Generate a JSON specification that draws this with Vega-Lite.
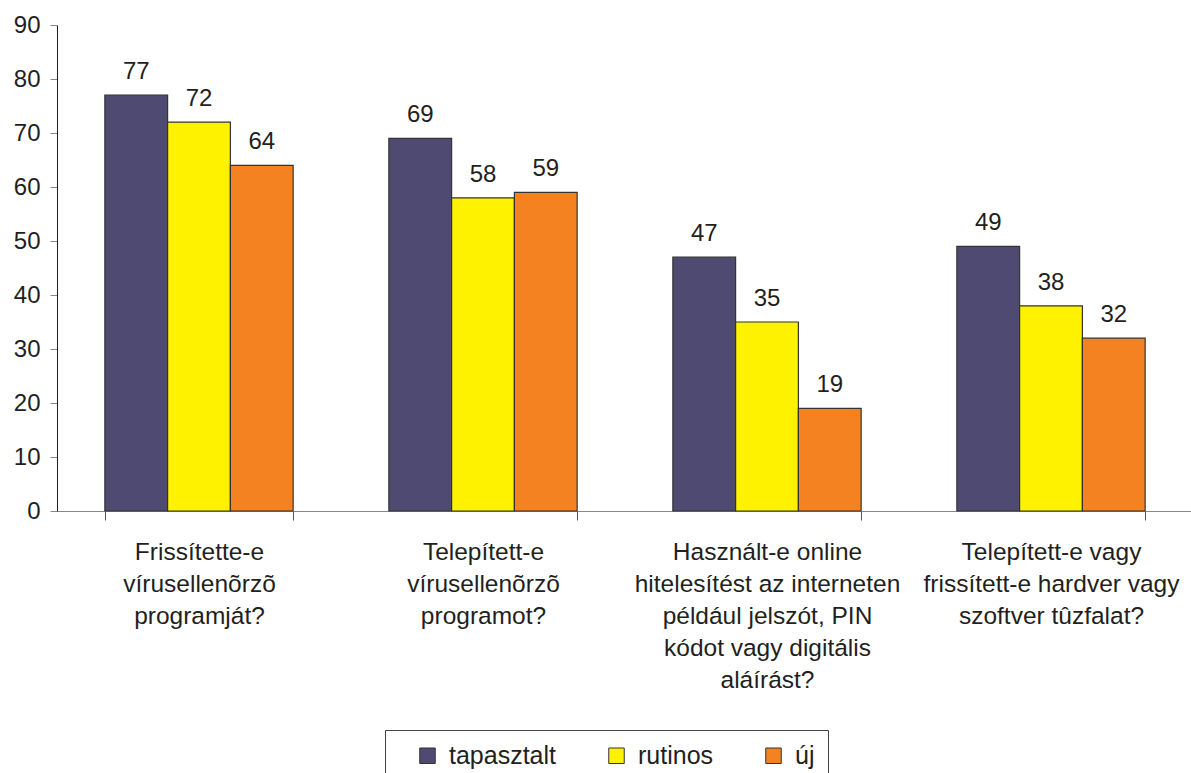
{
  "$schema": "https://vega.github.io/schema/vega-lite/v6.json",
  "width": 1136,
  "height": 486,
  "autosize": {"type": "none"},
  "padding": {"left": 57, "top": 25, "right": 0, "bottom": 262},
  "background": "white",
  "config": {
    "view": {"stroke": null},
    "font": "Liberation Sans",
    "text": {"font": "Liberation Sans"}
  },
  "data": {
    "values": [
      {"q": "Frissítette-e|vírusellenõrzõ|programját?", "s": "tapasztalt", "v": 77},
      {"q": "Frissítette-e|vírusellenõrzõ|programját?", "s": "rutinos", "v": 72},
      {"q": "Frissítette-e|vírusellenõrzõ|programját?", "s": "új", "v": 64},
      {"q": "Telepített-e|vírusellenõrzõ|programot?", "s": "tapasztalt", "v": 69},
      {"q": "Telepített-e|vírusellenõrzõ|programot?", "s": "rutinos", "v": 58},
      {"q": "Telepített-e|vírusellenõrzõ|programot?", "s": "új", "v": 59},
      {"q": "Használt-e online|hitelesítést az interneten|például jelszót, PIN|kódot vagy digitális|aláírást?", "s": "tapasztalt", "v": 47},
      {"q": "Használt-e online|hitelesítést az interneten|például jelszót, PIN|kódot vagy digitális|aláírást?", "s": "rutinos", "v": 35},
      {"q": "Használt-e online|hitelesítést az interneten|például jelszót, PIN|kódot vagy digitális|aláírást?", "s": "új", "v": 19},
      {"q": "Telepített-e vagy|frissített-e hardver vagy|szoftver tûzfalat?", "s": "tapasztalt", "v": 49},
      {"q": "Telepített-e vagy|frissített-e hardver vagy|szoftver tûzfalat?", "s": "rutinos", "v": 38},
      {"q": "Telepített-e vagy|frissített-e hardver vagy|szoftver tûzfalat?", "s": "új", "v": 32}
    ]
  },
  "encoding": {
    "x": {
      "field": "q",
      "type": "nominal",
      "sort": null,
      "title": null,
      "scale": {"paddingInner": 0.337, "paddingOuter": 0.1685},
      "axis": {
        "labelAngle": 0,
        "labelExpr": "split(datum.label, '|')",
        "labelFontSize": 24.5,
        "labelColor": "#231f20",
        "labelLineHeight": 32,
        "labelPadding": 20,
        "labelLimit": 400,
        "tickBand": "extent",
        "tickSize": 9,
        "tickColor": "#555555",
        "domainColor": "#888888",
        "labelBaseline": "top"
      }
    },
    "xOffset": {"field": "s", "type": "nominal", "sort": ["tapasztalt", "rutinos", "új"], "scale": {"paddingInner": 0, "paddingOuter": 0}},
    "y": {
      "field": "v",
      "type": "quantitative",
      "title": null,
      "scale": {"domain": [0, 90], "nice": false},
      "axis": {
        "values": [0, 10, 20, 30, 40, 50, 60, 70, 80, 90],
        "grid": false,
        "labelFontSize": 24,
        "labelColor": "#231f20",
        "labelPadding": 10,
        "tickSize": 7,
        "tickColor": "#888888",
        "domainColor": "#231f20"
      }
    }
  },
  "layer": [
    {
      "mark": {"type": "bar", "stroke": "#333333", "strokeWidth": 1.2},
      "encoding": {
        "color": {
          "field": "s",
          "type": "nominal",
          "sort": ["tapasztalt", "rutinos", "új"],
          "scale": {"domain": ["tapasztalt", "rutinos", "új"], "range": ["#4f4a72", "#fff200", "#f58220"]},
          "legend": {
            "title": null,
            "orient": "none",
            "legendX": 328,
            "legendY": 705,
            "direction": "horizontal",
            "columns": 3,
            "columnPadding": 30,
            "symbolOffset": 17,
            "symbolType": "square",
            "symbolSize": 240,
            "symbolStrokeColor": "#333333",
            "symbolStrokeWidth": 1,
            "labelFontSize": 25,
            "labelColor": "#231f20",
            "labelOffset": 9,
            "padding": 13,
            "strokeColor": "#444444",
            "fillColor": "white"
          }
        }
      }
    },
    {
      "mark": {"type": "text", "baseline": "bottom", "dy": -11, "fontSize": 24, "color": "#231f20"},
      "encoding": {"text": {"field": "v", "type": "quantitative"}}
    }
  ]
}
